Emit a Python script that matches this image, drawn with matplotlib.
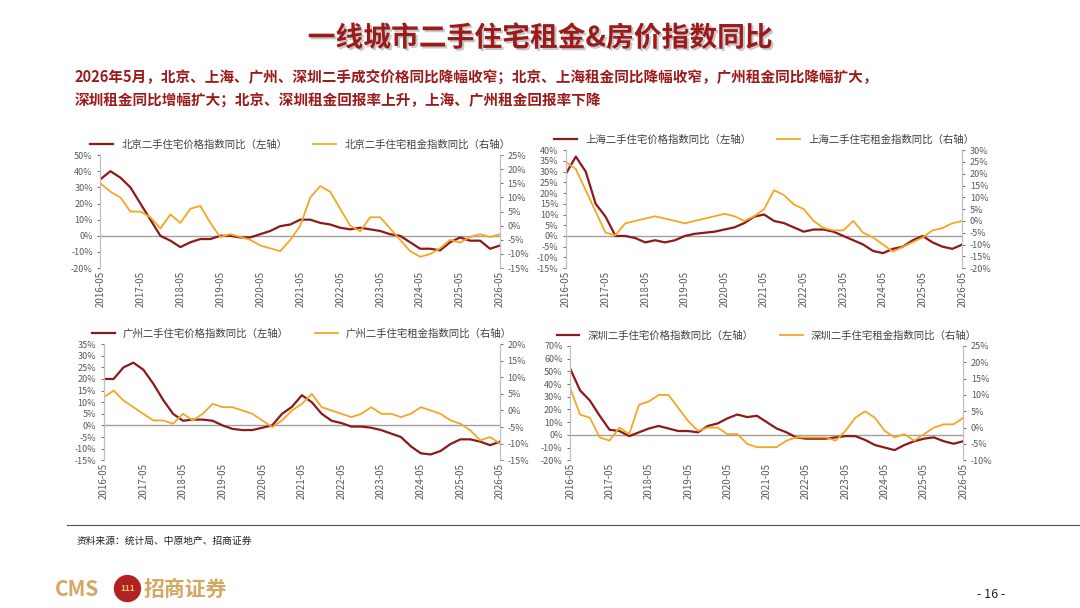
import matplotlib.pyplot as plt
import matplotlib.patheffects as pe
from matplotlib.patches import Ellipse
import numpy as np

plt.rcParams['font.family'] = ['Noto Sans CJK SC', 'DejaVu Sans']

# quarterly points, 2016-05 .. 2026-05
months = np.arange(0, 121, 3)
tick_labels = ['%d-05' % y for y in range(2016, 2027)]

bj_price = [35, 40, 36, 30, 20, 10, 0, -3, -7, -4, -2, -2, 0, 0, -1, -1, 1, 3, 6, 7, 10,
            10, 8, 7, 5, 4, 5, 4, 3, 1, 0, -4, -8, -8, -9, -4, -1, -3, -3, -8, -6]
bj_rent = [15, 12, 10, 5, 5, 3, -1, 4, 1, 6, 7, 1, -4, -3, -4, -5, -7, -8, -9, -5, 0,
           10, 14, 12, 6, 0, -2, 3, 3, -1, -5, -9, -11, -10, -8, -5, -6, -4, -3, -4, -3]
sh_price = [29, 37, 30, 15, 9, 0, 0, -1, -3, -2, -3, -2, 0, 1, 1.5, 2, 3, 4, 6, 9, 10,
            7, 6, 4, 2, 3, 3, 2, 0, -2, -4, -7, -8, -6, -5, -2, 0, -3, -5, -6, -4]
sh_rent = [25, 22, 13, 4, -5, -6, -1, 0, 1, 2, 1, 0, -1, 0, 1, 2, 3, 2, 0, 2, 5,
           13, 11, 7, 5, 0, -3, -4, -4, 0, -5, -7, -10, -13, -11, -9, -7, -4, -3, -1, 0]
gz_price = [20, 20, 25, 27, 24, 18, 11, 5, 2, 2.5, 2.5, 2, 0, -1.5, -2, -2, -1, 0, 5, 8, 13,
            10, 5, 2, 1, -0.5, -0.5, -1, -2, -3.5, -5, -9, -12, -12.5, -11, -8, -6, -6, -7, -8.5, -7]
gz_rent = [4, 6, 3, 1, -1, -3, -3, -4, -1, -3, -1, 2, 1, 1, 0, -1, -3, -5, -3, 0, 2,
           5, 1, 0, -1, -2, -1, 1, -1, -1, -2, -1, 1, 0, -1, -3, -4, -6, -9, -8, -10]
sz_price = [52, 35, 27, 15, 4, 3, -1, 2, 5, 7, 5, 3, 3, 2, 7, 9, 13, 16, 14, 15, 10,
            5, 2, -2, -3, -3, -3, -2, -1, -1, -4, -8, -10, -12, -8, -5, -3, -2, -5, -7, -5]
sz_rent = [12, 4, 3, -3, -4, 0, -2, 7, 8, 10, 10, 6, 2, -1, 0, 0, -2, -2, -5, -6, -6,
           -6, -4, -3, -3, -3, -3, -4, -1, 3, 5, 3, -1, -3, -2, -4, -2, 0, 1, 1, 3]

panels = [
    ('北京', bj_price, bj_rent, (-20, 50, 10), (-15, 25, 5), [0.093, 0.559, 0.370, 0.186]),
    ('上海', sh_price, sh_rent, (-15, 40, 5), (-20, 30, 5), [0.524, 0.559, 0.367, 0.194]),
    ('广州', gz_price, gz_rent, (-15, 35, 5), (-15, 20, 5), [0.096, 0.243, 0.367, 0.191]),
    ('深圳', sz_price, sz_rent, (-20, 70, 10), (-10, 25, 5), [0.528, 0.243, 0.364, 0.188]),
]

price_color = '#8B1A1A'
rent_color = '#F5A623'

fig = plt.figure(figsize=(10.8, 6.08), dpi=100)

for city, price, rent, lrange, rrange, pos in panels:
    ax = fig.add_axes(pos)
    ax2 = ax.twinx()
    l1, = ax.plot(months, price, color=price_color, lw=1.6, label=city + '二手住宅价格指数同比（左轴）')
    l2, = ax2.plot(months, rent, color=rent_color, lw=1.3, label=city + '二手住宅租金指数同比（右轴）')
    ax.axhline(0, color='#a0a0a0', lw=1.0, zorder=0)
    ax.set_ylim(lrange[0], lrange[1])
    ax.set_yticks(np.arange(lrange[0], lrange[1] + 0.1, lrange[2]))
    ax.set_yticklabels(['%d%%' % v for v in ax.get_yticks()])
    ax2.set_ylim(rrange[0], rrange[1])
    ax2.set_yticks(np.arange(rrange[0], rrange[1] + 0.1, rrange[2]))
    ax2.set_yticklabels(['%d%%' % v for v in ax2.get_yticks()])
    ax.set_xlim(0, 120)
    ax.set_xticks(np.arange(0, 121, 12))
    ax.set_xticklabels(tick_labels, rotation=90)
    for a in (ax, ax2):
        for s in ('top', 'bottom'):
            a.spines[s].set_visible(False)
        a.spines['left'].set_color('#bfbfbf')
        a.spines['right'].set_color('#bfbfbf')
        a.tick_params(labelsize=6.5, colors='#595959', length=2, width=0.6)
    ax.tick_params(axis='x', length=0, pad=2, labelsize=7)
    ax.legend(handles=[l1, l2], loc='lower center', bbox_to_anchor=(0.5, 1.0), ncol=2,
              frameon=False, fontsize=7.5, handlelength=2.2, columnspacing=2.5,
              borderaxespad=0.1, labelcolor='#404040')

# header
fig.text(0.5, 0.937, '一线城市二手住宅租金&房价指数同比', ha='center', va='center',
         fontsize=20, color='#9B1B1B', fontweight='bold',
         path_effects=[pe.withSimplePatchShadow(offset=(1.5, -1.5), shadow_rgbFace='#c8c8c8', alpha=1)])
fig.text(0.069, 0.872, '2026年5月，北京、上海、广州、深圳二手成交价格同比降幅收窄；北京、上海租金同比降幅收窄，广州租金同比降幅扩大，',
         fontsize=10.5, color='#9B1B1B', fontweight='bold', va='center')
fig.text(0.069, 0.834, '深圳租金同比增幅扩大；北京、深圳租金回报率上升，上海、广州租金回报率下降',
         fontsize=10.5, color='#9B1B1B', fontweight='bold', va='center')

# footer
fig.add_artist(plt.Line2D([0.062, 1.0], [0.136, 0.136], color='#505050', lw=0.8))
fig.text(0.071, 0.110, '资料来源：统计局、中原地产、招商证券', fontsize=7, color='#222222', va='center')
fig.text(0.051, 0.030, 'CMS', fontsize=15, color='#D4A861', va='center', fontweight='bold')
fig.add_artist(Ellipse((0.118, 0.032), 0.024, 0.024 * 1080 / 608,
                       transform=fig.transFigure, color='#B22222'))
fig.text(0.118, 0.032, '111', fontsize=6, color='#F0C060', ha='center', va='center', fontweight='bold')
fig.text(0.133, 0.030, '招商证券', fontsize=15, color='#D4A861', fontweight='bold', va='center')
fig.text(0.905, 0.022, '- 16 -', fontsize=9, color='#222222', va='center')

fig.savefig('out.png', dpi=100)
